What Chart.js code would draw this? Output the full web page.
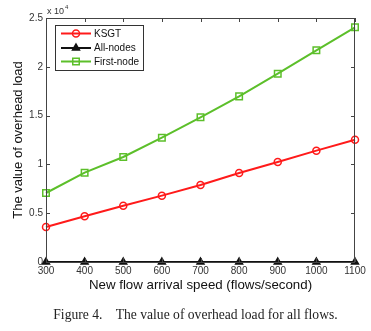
<!DOCTYPE html>
<html>
<head>
<meta charset="utf-8">
<script src="https://cdn.jsdelivr.net/npm/chart.js@4/dist/chart.umd.min.js"></script>
<style>
  html, body { margin: 0; padding: 0; background: #fff; }
  #wrap { position: relative; width: 371px; height: 331px; overflow: hidden; }
  canvas { display: block; }
  #caption {
    position: absolute; left: 10px; width: 371px; top: 307px;
    text-align: center; font-family: "Liberation Serif", serif; font-size: 13.6px; color: #222;
    white-space: pre;
  }
</style>
</head>
<body>
<div id="wrap">
  <canvas id="chart" width="371" height="331"></canvas>
  <div id="caption">Figure 4.    The value of overhead load for all flows.</div>
</div>
<script>
var speeds = ['300', '400', '500', '600', '700', '800', '900', '1000', '1100'];
var ksgt = [3590, 4680, 5770, 6800, 7890, 9120, 10250, 11410, 12530];
var allNodes = [0, 0, 0, 0, 0, 0, 0, 0, 0];
var firstNode = [7070, 9150, 10760, 12740, 14820, 16970, 19300, 21690, 24040];
var yTicks = [0, 5000, 10000, 15000, 20000, 25000];

var red = '#ff1a1a';
var green = '#5cbf2a';
var black = '#111111';
var font = '"Liberation Sans", Arial, sans-serif';

// matlab-like box, inward ticks, legend and exponent label
var boxPlugin = {
    id: 'box',
    afterDatasetsDraw: function(chart) {
        var ctx = chart.ctx;
        var a = chart.chartArea;
        var xs = chart.scales.x, ys = chart.scales.y;
        ctx.save();
        ctx.strokeStyle = '#444';
        ctx.lineWidth = 1;
        ctx.strokeRect(a.left + 0.5, a.top + 0.5, a.right - a.left - 1, a.bottom - a.top);
        ctx.beginPath();
        for (var i = 0; i < speeds.length; i++) {
            var px = Math.round(xs.getPixelForValue(i)) + 0.5;
            ctx.moveTo(px, a.bottom); ctx.lineTo(px, a.bottom - 4);
            ctx.moveTo(px, a.top); ctx.lineTo(px, a.top + 4);
        }
        for (var j = 0; j < yTicks.length; j++) {
            var py = Math.round(ys.getPixelForValue(yTicks[j])) + 0.5;
            ctx.moveTo(a.left, py); ctx.lineTo(a.left + 4, py);
            ctx.moveTo(a.right, py); ctx.lineTo(a.right - 4, py);
        }
        ctx.stroke();

        // exponent
        ctx.fillStyle = '#333';
        ctx.font = '9px ' + font;
        ctx.textBaseline = 'alphabetic';
        ctx.fillText('x 10', a.left + 1, a.top - 4);
        ctx.font = '6px ' + font;
        ctx.fillText('4', a.left + 19, a.top - 9);

        // legend
        var lx = 55, ly = 25, lw = 88, lh = 45;
        ctx.fillStyle = '#fff';
        ctx.fillRect(lx, ly, lw, lh);
        ctx.strokeStyle = '#333';
        ctx.strokeRect(lx + 0.5, ly + 0.5, lw, lh);
        var rows = [33.5, 48, 61.5];
        chart.data.datasets.forEach(function(ds, k) {
            var y = rows[k];
            ctx.strokeStyle = ds.borderColor;
            ctx.lineWidth = 2;
            ctx.beginPath();
            ctx.moveTo(61, y); ctx.lineTo(91, y);
            ctx.stroke();
            ctx.fillStyle = ds.pointBackgroundColor;
            ctx.lineWidth = 1.5;
            Chart.helpers.drawPoint(ctx, {
                pointStyle: ds.pointStyle, radius: ds.pointRadius, rotation: 0, borderWidth: 1.5
            }, 76, y);
            ctx.fillStyle = '#111';
            ctx.font = '10px ' + font;
            ctx.textBaseline = 'middle';
            ctx.fillText(ds.label, 94, y + 0.5);
        });
        ctx.restore();
    }
};

new Chart(document.getElementById('chart'), {
    type: 'line',
    data: {
        labels: speeds,
        datasets: [{
            label: 'KSGT',
            data: ksgt,
            borderColor: red,
            pointBorderColor: red,
            pointBackgroundColor: 'rgba(0,0,0,0)',
            pointStyle: 'circle',
            pointRadius: 3.5,
            pointBorderWidth: 1.5,
            borderWidth: 2,
            clip: false
        }, {
            label: 'All-nodes',
            data: allNodes,
            borderColor: black,
            pointBorderColor: black,
            pointBackgroundColor: black,
            pointStyle: 'triangle',
            pointRadius: 4,
            pointBorderWidth: 1.5,
            borderWidth: 2,
            clip: false
        }, {
            label: 'First-node',
            data: firstNode,
            borderColor: green,
            pointBorderColor: green,
            pointBackgroundColor: 'rgba(0,0,0,0)',
            pointStyle: 'rect',
            pointRadius: 4.6,
            pointBorderWidth: 1.5,
            borderWidth: 2,
            clip: false
        }]
    },
    options: {
        responsive: false,
        animation: false,
        layout: { padding: { left: 0, right: 16, top: 18, bottom: 38 } },
        plugins: { legend: { display: false }, tooltip: { enabled: false } },
        elements: { line: { tension: 0 } },
        scales: {
            x: {
                offset: false,
                grid: { display: false, drawTicks: false },
                border: { display: false },
                ticks: { color: '#333', font: { family: font, size: 10 }, padding: 3, maxRotation: 0, autoSkip: false },
                title: { display: true, text: 'New flow arrival speed (flows/second)', color: '#111',
                    font: { family: font, size: 13.3 }, padding: { top: 0, bottom: 0 } },
                afterFit: function(s) { s.height = 31; }
            },
            y: {
                min: 0, max: 25000,
                grid: { display: false, drawTicks: false },
                border: { display: false },
                afterBuildTicks: function(s) { s.ticks = yTicks.map(function(v) { return { value: v }; }); },
                ticks: {
                    color: '#333', font: { family: font, size: 10 }, padding: 3,
                    callback: function(v) { return v / 10000; }
                },
                title: { display: true, text: 'The value of overhead load', color: '#111',
                    font: { family: font, size: 13 }, padding: { top: 11, bottom: 0 } },
                afterFit: function(s) { s.width = 46; }
            }
        }
    },
    plugins: [boxPlugin]
});
</script>
</body>
</html>
